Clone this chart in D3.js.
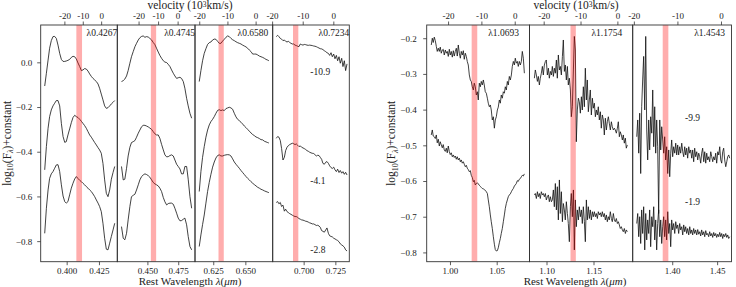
<!DOCTYPE html>
<html>
<head>
<meta charset="utf-8">
<script src="https://cdn.jsdelivr.net/npm/d3@7"></script>
<style>
    body { margin: 0; background: #fff; }
    svg text { font-family: "Liberation Serif", "DejaVu Serif", serif; fill: #222; }
    .frame { fill: none; stroke: #333; stroke-width: 0.9; }
    .spec { fill: none; stroke: #111; stroke-width: 0.8; stroke-linejoin: round; }
</style>
</head>
<body>
<svg id="chart" width="736" height="287"></svg>
<script>
//optical spectra, log10 flux + constant, one array per epoch (top to bottom)
var wave4267 = [0.3830,0.3843,0.3856,0.3868,0.3881,0.3894,0.3907,0.3920,0.3933,0.3946,0.3959,0.3972,0.3985,0.3997,0.4010,0.4023,0.4036,0.4049,0.4062,0.4075,0.4088,0.4101,0.4114,0.4126,0.4139,0.4152,0.4165,0.4178,0.4191,0.4204,0.4217,0.4230,0.4243,0.4255,0.4268,0.4281,0.4294,0.4307,0.4320,0.4333,0.4346,0.4359,0.4372];
var flux4267a = [-0.106,-0.049,0.010,0.063,0.097,0.115,0.116,0.107,0.077,0.040,0.013,0.004,0.004,0.006,0.009,0.013,0.022,0.027,0.025,0.015,-0.003,-0.019,-0.037,-0.034,-0.028,-0.030,-0.039,-0.052,-0.063,-0.072,-0.079,-0.086,-0.097,-0.116,-0.142,-0.168,-0.195,-0.206,-0.203,-0.195,-0.186,-0.179,-0.171];
var flux4267b = [-0.481,-0.377,-0.295,-0.243,-0.213,-0.195,-0.183,-0.171,-0.171,-0.195,-0.273,-0.332,-0.358,-0.355,-0.325,-0.298,-0.270,-0.247,-0.237,-0.243,-0.247,-0.255,-0.264,-0.273,-0.283,-0.295,-0.310,-0.325,-0.335,-0.347,-0.359,-0.370,-0.382,-0.392,-0.407,-0.452,-0.526,-0.586,-0.601,-0.571,-0.523,-0.493,-0.466];
var flux4267c = [-0.765,-0.653,-0.571,-0.519,-0.499,-0.489,-0.474,-0.459,-0.458,-0.489,-0.548,-0.598,-0.623,-0.630,-0.623,-0.593,-0.563,-0.541,-0.522,-0.511,-0.520,-0.528,-0.534,-0.541,-0.548,-0.556,-0.563,-0.571,-0.578,-0.589,-0.601,-0.616,-0.630,-0.645,-0.668,-0.720,-0.787,-0.836,-0.839,-0.809,-0.779,-0.750,-0.720];

var wave4745 = [0.4290,0.4304,0.4317,0.4331,0.4344,0.4358,0.4371,0.4385,0.4399,0.4412,0.4426,0.4439,0.4453,0.4466,0.4480,0.4493,0.4507,0.4520,0.4534,0.4547,0.4561,0.4574,0.4588,0.4601,0.4615,0.4629,0.4642,0.4656,0.4669,0.4683,0.4696,0.4710,0.4723,0.4737,0.4750,0.4764,0.4777,0.4791,0.4804,0.4818,0.4831,0.4845,0.4859];
var flux4745a = [-0.086,-0.082,-0.075,-0.061,-0.037,-0.004,0.025,0.048,0.070,0.085,0.100,0.110,0.116,0.118,0.112,0.115,0.113,0.107,0.100,0.089,0.079,0.063,0.046,0.031,0.018,0.007,0.001,-0.001,-0.009,-0.019,-0.034,-0.049,-0.061,-0.072,-0.069,-0.067,-0.072,-0.086,-0.116,-0.161,-0.195,-0.228,-0.250];
var flux4745b = [-0.466,-0.526,-0.523,-0.474,-0.419,-0.380,-0.359,-0.355,-0.350,-0.335,-0.317,-0.303,-0.288,-0.282,-0.282,-0.285,-0.289,-0.294,-0.300,-0.310,-0.320,-0.325,-0.325,-0.340,-0.367,-0.392,-0.414,-0.423,-0.422,-0.417,-0.414,-0.419,-0.437,-0.456,-0.466,-0.477,-0.499,-0.499,-0.466,-0.466,-0.523,-0.601,-0.653];
var flux4745c = [-0.735,-0.787,-0.794,-0.765,-0.705,-0.645,-0.601,-0.595,-0.590,-0.571,-0.548,-0.526,-0.511,-0.504,-0.499,-0.502,-0.507,-0.514,-0.526,-0.537,-0.544,-0.548,-0.553,-0.563,-0.578,-0.605,-0.624,-0.638,-0.632,-0.630,-0.630,-0.635,-0.653,-0.675,-0.697,-0.709,-0.708,-0.702,-0.697,-0.727,-0.779,-0.824,-0.839];

var wave6580 = [0.6141,0.6154,0.6167,0.6180,0.6193,0.6206,0.6219,0.6232,0.6245,0.6258,0.6271,0.6284,0.6297,0.6310,0.6323,0.6336,0.6349,0.6362,0.6375,0.6388,0.6401,0.6414,0.6427,0.6440,0.6453,0.6466,0.6479,0.6492,0.6505,0.6518,0.6531,0.6544,0.6557,0.6570,0.6583,0.6596,0.6609,0.6622,0.6635,0.6648,0.6661,0.6674,0.6683];
var flux6580a = [-0.086,-0.037,0.007,0.040,0.061,0.080,0.088,0.091,0.100,0.104,0.103,0.094,0.085,0.085,0.095,0.103,0.112,0.118,0.115,0.107,0.101,0.097,0.092,0.088,0.085,0.082,0.077,0.073,0.069,0.063,0.055,0.048,0.037,0.037,0.037,0.033,0.028,0.025,0.022,0.018,0.013,0.010,0.007];
var flux6580b = [-0.578,-0.489,-0.425,-0.377,-0.335,-0.303,-0.280,-0.265,-0.255,-0.243,-0.228,-0.215,-0.212,-0.216,-0.213,-0.216,-0.207,-0.204,-0.201,-0.204,-0.210,-0.228,-0.244,-0.255,-0.261,-0.268,-0.276,-0.285,-0.292,-0.300,-0.308,-0.316,-0.323,-0.328,-0.334,-0.337,-0.341,-0.346,-0.347,-0.353,-0.356,-0.359,-0.361];
var flux6580c = [-0.824,-0.772,-0.726,-0.683,-0.630,-0.578,-0.537,-0.501,-0.469,-0.446,-0.428,-0.417,-0.414,-0.419,-0.419,-0.416,-0.414,-0.413,-0.414,-0.419,-0.432,-0.446,-0.456,-0.465,-0.474,-0.484,-0.493,-0.502,-0.511,-0.519,-0.526,-0.534,-0.541,-0.547,-0.553,-0.559,-0.563,-0.568,-0.571,-0.575,-0.578,-0.581,-0.583];

var wave7234 = [0.6784,0.6795,0.6805,0.6816,0.6826,0.6837,0.6848,0.6858,0.6869,0.6879,0.6890,0.6900,0.6911,0.6921,0.6932,0.6942,0.6953,0.6963,0.6974,0.6984,0.6995,0.7005,0.7016,0.7026,0.7037,0.7047,0.7058,0.7068,0.7079,0.7089,0.7100,0.7110,0.7121,0.7131,0.7142,0.7152,0.7163,0.7174,0.7184,0.7195,0.7205,0.7216,0.7226,0.7237,0.7247,0.7258,0.7268,0.7279,0.7289,0.7300,0.7310,0.7321,0.7331,0.7342];
var flux7234a = [0.115,0.121,0.115,0.107,0.104,0.097,0.100,0.094,0.091,0.094,0.089,0.085,0.082,0.082,0.077,0.075,0.072,0.070,0.082,0.079,0.077,0.080,0.079,0.077,0.076,0.077,0.076,0.075,0.073,0.072,0.070,0.067,0.064,0.061,0.060,0.057,0.052,0.048,0.043,0.040,0.031,0.043,0.025,0.037,0.016,0.031,0.007,0.025,-0.004,0.018,-0.019,0.007,-0.037,-0.007];
var flux7234b = [-0.340,-0.332,-0.335,-0.350,-0.385,-0.437,-0.425,-0.395,-0.380,-0.373,-0.368,-0.365,-0.362,-0.364,-0.368,-0.365,-0.371,-0.377,-0.374,-0.380,-0.383,-0.386,-0.390,-0.395,-0.398,-0.402,-0.405,-0.407,-0.408,-0.413,-0.419,-0.416,-0.417,-0.425,-0.434,-0.452,-0.456,-0.447,-0.444,-0.452,-0.463,-0.471,-0.475,-0.469,-0.481,-0.489,-0.478,-0.493,-0.484,-0.496,-0.489,-0.501,-0.492,-0.504];
var flux7234c = [-0.627,-0.623,-0.633,-0.627,-0.645,-0.639,-0.666,-0.657,-0.668,-0.672,-0.677,-0.680,-0.684,-0.687,-0.690,-0.690,-0.694,-0.699,-0.702,-0.705,-0.706,-0.708,-0.711,-0.712,-0.715,-0.718,-0.720,-0.723,-0.723,-0.726,-0.730,-0.729,-0.732,-0.738,-0.753,-0.756,-0.760,-0.750,-0.741,-0.765,-0.776,-0.779,-0.781,-0.787,-0.790,-0.794,-0.797,-0.803,-0.812,-0.817,-0.821,-0.827,-0.839,-0.844];

//NIR spectra
var wave10693 = [0.9800,0.9811,0.9821,0.9832,0.9843,0.9854,0.9864,0.9875,0.9886,0.9896,0.9907,0.9918,0.9928,0.9939,0.9950,0.9961,0.9971,0.9982,0.9993,1.0003,1.0014,1.0025,1.0036,1.0046,1.0057,1.0068,1.0078,1.0089,1.0100,1.0111,1.0121,1.0132,1.0143,1.0153,1.0164,1.0175,1.0185,1.0196,1.0207,1.0218,1.0228,1.0239,1.0250,1.0260,1.0271,1.0282,1.0293,1.0303,1.0314,1.0325,1.0335,1.0346,1.0357,1.0367,1.0378,1.0389,1.0400,1.0410,1.0421,1.0432,1.0442,1.0453,1.0464,1.0475,1.0485,1.0496,1.0507,1.0517,1.0528,1.0539,1.0549,1.0560,1.0571,1.0582,1.0592,1.0603,1.0614,1.0624,1.0635,1.0646,1.0657,1.0667,1.0678,1.0689,1.0699,1.0710,1.0721,1.0731,1.0742,1.0753,1.0764,1.0774,1.0785,1.0796];
var flux10693a = [-0.219,-0.200,-0.212,-0.197,-0.207,-0.223,-0.237,-0.228,-0.237,-0.225,-0.242,-0.233,-0.231,-0.247,-0.233,-0.242,-0.237,-0.251,-0.231,-0.247,-0.237,-0.253,-0.235,-0.250,-0.237,-0.228,-0.250,-0.219,-0.242,-0.256,-0.237,-0.247,-0.235,-0.259,-0.242,-0.251,-0.265,-0.275,-0.303,-0.317,-0.321,-0.336,-0.345,-0.326,-0.336,-0.359,-0.350,-0.373,-0.326,-0.336,-0.321,-0.331,-0.317,-0.331,-0.350,-0.354,-0.368,-0.382,-0.392,-0.387,-0.401,-0.429,-0.420,-0.452,-0.429,-0.420,-0.401,-0.393,-0.373,-0.382,-0.359,-0.368,-0.350,-0.354,-0.336,-0.345,-0.321,-0.331,-0.307,-0.317,-0.303,-0.279,-0.265,-0.275,-0.256,-0.270,-0.265,-0.279,-0.265,-0.275,-0.265,-0.237,-0.256,-0.298];
var flux10693b = [-0.471,-0.457,-0.474,-0.476,-0.481,-0.471,-0.493,-0.483,-0.502,-0.490,-0.499,-0.507,-0.498,-0.513,-0.517,-0.508,-0.521,-0.502,-0.518,-0.526,-0.521,-0.532,-0.527,-0.534,-0.530,-0.539,-0.532,-0.541,-0.536,-0.546,-0.541,-0.550,-0.546,-0.553,-0.560,-0.556,-0.564,-0.568,-0.574,-0.571,-0.584,-0.590,-0.602,-0.598,-0.611,-0.607,-0.605,-0.608,-0.612,-0.615,-0.618,-0.621,-0.622,-0.624,-0.626,-0.630,-0.635,-0.653,-0.672,-0.695,-0.714,-0.733,-0.756,-0.777,-0.792,-0.796,-0.795,-0.787,-0.773,-0.761,-0.747,-0.733,-0.714,-0.695,-0.677,-0.663,-0.653,-0.644,-0.639,-0.636,-0.630,-0.625,-0.621,-0.614,-0.611,-0.607,-0.599,-0.601,-0.595,-0.593,-0.588,-0.584,-0.586,-0.580];

var wave11754 = [1.0871,1.0881,1.0892,1.0903,1.0913,1.0924,1.0934,1.0945,1.0956,1.0966,1.0977,1.0988,1.0998,1.1009,1.1020,1.1030,1.1041,1.1052,1.1062,1.1073,1.1083,1.1094,1.1105,1.1115,1.1126,1.1137,1.1147,1.1158,1.1169,1.1179,1.1190,1.1200,1.1211,1.1222,1.1232,1.1243,1.1254,1.1264,1.1275,1.1286,1.1296,1.1307,1.1317,1.1328,1.1339,1.1349,1.1360,1.1371,1.1381,1.1392,1.1403,1.1413,1.1424,1.1434,1.1445,1.1456,1.1466,1.1477,1.1488,1.1498,1.1509,1.1520,1.1530,1.1541,1.1551,1.1562,1.1573,1.1583,1.1594,1.1605,1.1615,1.1626,1.1637,1.1647,1.1658,1.1668,1.1679,1.1690,1.1700,1.1711,1.1722,1.1732,1.1743,1.1754,1.1764,1.1775,1.1785,1.1796,1.1807,1.1817,1.1828,1.1839,1.1849,1.1860];
var flux11754a = [-0.312,-0.289,-0.303,-0.321,-0.307,-0.331,-0.312,-0.298,-0.279,-0.303,-0.275,-0.265,-0.261,-0.303,-0.284,-0.312,-0.293,-0.303,-0.279,-0.307,-0.284,-0.298,-0.261,-0.312,-0.247,-0.289,-0.279,-0.303,-0.251,-0.205,-0.293,-0.275,-0.317,-0.279,-0.331,-0.312,-0.345,-0.420,-0.392,-0.289,-0.195,-0.233,-0.490,-0.401,-0.368,-0.378,-0.410,-0.364,-0.401,-0.336,-0.392,-0.284,-0.373,-0.317,-0.406,-0.373,-0.345,-0.415,-0.368,-0.396,-0.382,-0.420,-0.401,-0.415,-0.392,-0.429,-0.406,-0.452,-0.415,-0.429,-0.471,-0.424,-0.457,-0.434,-0.420,-0.438,-0.457,-0.434,-0.448,-0.457,-0.452,-0.457,-0.466,-0.452,-0.434,-0.476,-0.462,-0.471,-0.485,-0.471,-0.494,-0.480,-0.508,-0.499];
var flux11754b = [-0.639,-0.635,-0.649,-0.630,-0.644,-0.635,-0.649,-0.630,-0.639,-0.635,-0.644,-0.635,-0.653,-0.644,-0.639,-0.658,-0.644,-0.658,-0.653,-0.625,-0.672,-0.607,-0.681,-0.616,-0.709,-0.597,-0.691,-0.630,-0.714,-0.663,-0.681,-0.709,-0.658,-0.691,-0.719,-0.770,-0.672,-0.635,-0.700,-0.625,-0.793,-0.653,-0.728,-0.681,-0.709,-0.672,-0.700,-0.681,-0.719,-0.672,-0.714,-0.770,-0.653,-0.709,-0.672,-0.705,-0.681,-0.709,-0.686,-0.700,-0.686,-0.700,-0.691,-0.705,-0.686,-0.695,-0.689,-0.700,-0.686,-0.700,-0.691,-0.709,-0.695,-0.714,-0.700,-0.709,-0.686,-0.705,-0.714,-0.691,-0.709,-0.714,-0.705,-0.719,-0.714,-0.723,-0.733,-0.728,-0.737,-0.742,-0.733,-0.747,-0.737,-0.742];

var wave14543 = [1.3605,1.3616,1.3627,1.3638,1.3649,1.3660,1.3671,1.3682,1.3694,1.3705,1.3716,1.3727,1.3738,1.3749,1.3760,1.3772,1.3783,1.3794,1.3805,1.3816,1.3827,1.3838,1.3849,1.3861,1.3872,1.3883,1.3894,1.3905,1.3916,1.3927,1.3938,1.3950,1.3961,1.3972,1.3983,1.3994,1.4005,1.4016,1.4028,1.4039,1.4050,1.4061,1.4072,1.4083,1.4094,1.4106,1.4117,1.4128,1.4139,1.4150,1.4161,1.4172,1.4184,1.4195,1.4206,1.4217,1.4228,1.4239,1.4250,1.4261,1.4273,1.4284,1.4295,1.4306,1.4317,1.4328,1.4339,1.4351,1.4362,1.4373,1.4384,1.4395,1.4406,1.4417,1.4429,1.4440,1.4451,1.4462,1.4473,1.4484,1.4495,1.4507,1.4518,1.4529,1.4540,1.4551,1.4562,1.4573,1.4584,1.4596,1.4607,1.4618,1.4629,1.4640];
var flux14543a = [-0.476,-0.429,-0.522,-0.410,-0.579,-0.392,-0.317,-0.251,-0.401,-0.195,-0.457,-0.541,-0.429,-0.513,-0.420,-0.466,-0.345,-0.504,-0.392,-0.522,-0.429,-0.504,-0.691,-0.429,-0.513,-0.448,-0.485,-0.522,-0.476,-0.541,-0.504,-0.579,-0.513,-0.588,-0.522,-0.485,-0.532,-0.504,-0.522,-0.494,-0.527,-0.499,-0.527,-0.504,-0.522,-0.494,-0.518,-0.532,-0.504,-0.527,-0.508,-0.536,-0.504,-0.522,-0.513,-0.536,-0.513,-0.546,-0.508,-0.532,-0.518,-0.541,-0.522,-0.532,-0.550,-0.522,-0.508,-0.546,-0.518,-0.550,-0.522,-0.541,-0.532,-0.546,-0.518,-0.532,-0.546,-0.532,-0.541,-0.522,-0.550,-0.518,-0.527,-0.504,-0.541,-0.550,-0.518,-0.508,-0.541,-0.560,-0.546,-0.532,-0.527,-0.536];
var flux14543b = [-0.719,-0.691,-0.756,-0.700,-0.775,-0.681,-0.747,-0.672,-0.793,-0.691,-0.765,-0.709,-0.747,-0.681,-0.784,-0.700,-0.728,-0.672,-0.765,-0.709,-0.793,-0.719,-0.681,-0.756,-0.709,-0.775,-0.728,-0.700,-0.756,-0.709,-0.765,-0.686,-0.747,-0.719,-0.784,-0.709,-0.737,-0.719,-0.747,-0.714,-0.733,-0.723,-0.747,-0.719,-0.737,-0.728,-0.751,-0.723,-0.742,-0.728,-0.747,-0.733,-0.751,-0.728,-0.747,-0.737,-0.751,-0.733,-0.747,-0.737,-0.751,-0.736,-0.749,-0.742,-0.754,-0.737,-0.751,-0.742,-0.756,-0.739,-0.751,-0.747,-0.756,-0.742,-0.754,-0.747,-0.758,-0.744,-0.754,-0.747,-0.758,-0.749,-0.756,-0.744,-0.756,-0.747,-0.761,-0.749,-0.756,-0.747,-0.758,-0.751,-0.761,-0.756];

//line ids, axis limits, velocity band, tick values
var optLines = [0.4267, 0.4745, 0.6580, 0.7234];
var nirLines = [1.0693, 1.1754, 1.4543];
var optLimits = [[0.3799, 0.4392], [0.4256, 0.4886], [0.6108, 0.6713], [0.6756, 0.7360]];
var nirLimits = [[0.9751, 1.0851], [1.0819, 1.1917], [1.3560, 1.4660]];
var optBands = [[0.4075, 0.4119], [0.4528, 0.4571], [0.6291, 0.6332], [0.6916, 0.6958]];
var nirBands = [[1.0232, 1.0292], [1.1255, 1.1312], [1.3894, 1.3957]];
var optWaveTicks = [[0.400, 0.425], [0.450, 0.475], [0.625, 0.650], [0.700, 0.725]];
var nirWaveTicks = [[1.00, 1.05], [1.10, 1.15], [1.40, 1.45]];
var velTicks = [-20, -10, 0];
var optYTicks = [0.0, -0.2, -0.4, -0.6, -0.8];
var nirYTicks = [-0.2, -0.3, -0.4, -0.5, -0.6, -0.7, -0.8];
var optYLimits = [-0.892, 0.167];
var nirYLimits = [-0.826, -0.163];
var optEpochs = ["-10.9", "-4.1", "-2.8"];
var nirEpochs = ["-9.9", "-1.9"];

var C_LIGHT = 299.792; // 10^3 km/s

var svg = d3.select("#chart");
var FONT = "'Liberation Serif', 'DejaVu Serif', serif";

var optFig = {
    edges: [40.7, 117.3, 195, 272.7, 349.3],
    top: 25, bottom: 261.7,
    lines: optLines, limits: optLimits, bands: optBands, waveTicks: optWaveTicks,
    waveFmt: d3.format(".3f"),
    spectra: [
        { wave: wave4267, flux: [flux4267a, flux4267b, flux4267c] },
        { wave: wave4745, flux: [flux4745a, flux4745b, flux4745c] },
        { wave: wave6580, flux: [flux6580a, flux6580b, flux6580c] },
        { wave: wave7234, flux: [flux7234a, flux7234b, flux7234c] }
    ],
    yLimits: optYLimits, yTicks: optYTicks, yPad: 5,
    labelOffset: [0, 0, 4.4, 0],
    epochs: optEpochs,
    // epoch text anchor, data coords, in last panel
    epochAt: [[0.7053, -0.057], [0.7053, -0.545], [0.7053, -0.851]],
    ylabelX: 10.5, titleX: 190, xlabelX: 190, id: "opt"
};

var nirFig = {
    edges: [426.7, 529.5, 632.7, 731.5],
    top: 25, bottom: 261.7,
    lines: nirLines, limits: nirLimits, bands: nirBands, waveTicks: nirWaveTicks,
    waveFmt: d3.format(".2f"),
    spectra: [
        { wave: wave10693, flux: [flux10693a, flux10693b] },
        { wave: wave11754, flux: [flux11754a, flux11754b] },
        { wave: wave14543, flux: [flux14543a, flux14543b] }
    ],
    yLimits: nirYLimits, yTicks: nirYTicks, yPad: 6.5,
    labelOffset: [10.5, 10.5, 6.5],
    epochs: nirEpochs,
    epochAt: [[1.4142, -0.431], [1.4142, -0.667]],
    ylabelX: 395, titleX: 576, xlabelX: 575, id: "nir"
};

function styleAxis(g) {
    g.attr("font-family", FONT).attr("font-size", 9).attr("color", "#333");
    g.select(".domain").remove();
    g.selectAll(".tick line").attr("stroke-width", 0.8);
    g.selectAll(".tick text").attr("fill", "#222");
}

function drawFigure(fig) {
    var y = d3.scaleLinear().domain(fig.yLimits).range([fig.bottom, fig.top]);

    fig.spectra.forEach(function (spec, i) {
        var x0 = fig.edges[i], x1 = fig.edges[i + 1];
        var x = d3.scaleLinear().domain(fig.limits[i]).range([x0, x1]);
        var clipId = fig.id + "clip" + i;

        svg.append("clipPath").attr("id", clipId)
            .append("rect")
            .attr("x", x0).attr("y", fig.top)
            .attr("width", x1 - x0).attr("height", fig.bottom - fig.top);

        var g = svg.append("g").attr("clip-path", "url(#" + clipId + ")");

        var draw_line = d3.line()
            .x(function (d) { return x(d[0]); })
            .y(function (d) { return y(d[1]); });

        spec.flux.forEach(function (f) {
            g.append("path")
                .attr("class", "spec")
                .attr("d", draw_line(d3.zip(spec.wave, f)));
        });

        //velocity band sits on top of the spectra
        g.append("rect")
            .attr("x", x(fig.bands[i][0]))
            .attr("width", x(fig.bands[i][1]) - x(fig.bands[i][0]))
            .attr("y", fig.top)
            .attr("height", fig.bottom - fig.top)
            .attr("fill", "rgb(255,0,0)")
            .attr("fill-opacity", 0.32);

        svg.append("rect")
            .attr("class", "frame")
            .attr("x", x0).attr("y", fig.top)
            .attr("width", x1 - x0).attr("height", fig.bottom - fig.top);

        svg.append("g")
            .attr("transform", "translate(0," + fig.bottom + ")")
            .call(d3.axisBottom(x)
                .tickValues(fig.waveTicks[i])
                .tickSize(3.5).tickPadding(2.2)
                .tickFormat(fig.waveFmt))
            .call(styleAxis);

        var lam0 = fig.lines[i];
        svg.append("g")
            .attr("transform", "translate(0," + fig.top + ")")
            .call(d3.axisTop(x)
                .tickValues(velTicks.map(function (v) { return lam0 * (1 + v / C_LIGHT); }))
                .tickSize(3.5).tickPadding(3)
                .tickFormat(function (d, j) { return String(velTicks[j]); }))
            .call(styleAxis);

        svg.append("text")
            .attr("x", x1 - fig.labelOffset[i])
            .attr("y", 36)
            .attr("text-anchor", "end")
            .attr("font-size", 9.5)
            .text("\u03bb" + lam0.toFixed(4));

        if (i === fig.spectra.length - 1) {
            fig.epochs.forEach(function (e, k) {
                svg.append("text")
                    .attr("x", x(fig.epochAt[k][0]))
                    .attr("y", y(fig.epochAt[k][1]))
                    .attr("font-size", 9.5)
                    .text(e);
            });
        }
    });

    svg.append("g")
        .attr("transform", "translate(" + fig.edges[0] + ",0)")
        .call(d3.axisLeft(y)
            .tickValues(fig.yTicks)
            .tickSize(3.5).tickPadding(fig.yPad)
            .tickFormat(d3.format(".1f")))
        .call(styleAxis);

    var midY = (fig.top + fig.bottom) / 2;

    // log10(F_lambda)+constant
    var yl = svg.append("text")
        .attr("transform", "translate(" + fig.ylabelX + "," + midY + ") rotate(-90)")
        .attr("text-anchor", "middle")
        .attr("font-size", 11.5);
    yl.append("tspan").text("log");
    yl.append("tspan").attr("dy", 2.5).attr("font-size", 8).text("10");
    yl.append("tspan").attr("dy", -2.5).text("(F");
    yl.append("tspan").attr("dy", 2.5).attr("font-size", 8).attr("font-style", "italic").text("\u03bb");
    yl.append("tspan").attr("dy", -2.5).text(")+constant");

    // velocity (10^3 km/s)
    var tl = svg.append("text")
        .attr("x", fig.titleX).attr("y", 9.3)
        .attr("text-anchor", "middle")
        .attr("font-size", 11.5);
    tl.append("tspan").text("velocity (10");
    tl.append("tspan").attr("dy", -2.6).attr("font-size", 7.5).text("3");
    tl.append("tspan").attr("dy", 2.6).text("km/s)");

    // Rest Wavelength lambda(mu m)
    var xl = svg.append("text")
        .attr("x", fig.xlabelX).attr("y", 285)
        .attr("text-anchor", "middle")
        .attr("font-size", 11);
    xl.append("tspan").text("Rest Wavelength ");
    xl.append("tspan").attr("font-style", "italic").text("\u03bb");
    xl.append("tspan").text("(");
    xl.append("tspan").attr("font-style", "italic").text("\u03bcm");
    xl.append("tspan").text(")");
}

drawFigure(optFig);
drawFigure(nirFig);
</script>
</body>
</html>
